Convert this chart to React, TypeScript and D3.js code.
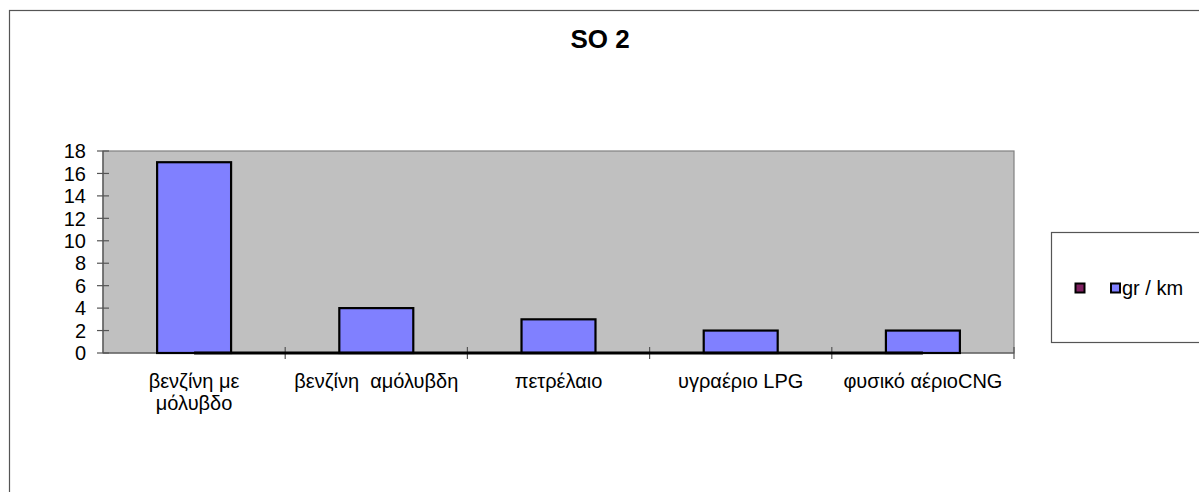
import React from "react";
import * as d3 from "d3";

const categories = [
  "βενζίνη με|μόλυβδο",
  "βενζίνη  αμόλυβδη",
  "πετρέλαιο",
  "υγραέριο LPG",
  "φυσικό αέριοCNG",
];
const grPerKm = [17, 4, 3, 2, 2];
const secondSeries = [0, 0, 0, 0, 0];
const yTicks = [0, 2, 4, 6, 8, 10, 12, 14, 16, 18];
const legendLabels = ["", "gr / km"];
const titleText = "SO 2";

const W = 1199;
const H = 492;
const FONT = "'Liberation Sans', Arial, sans-serif";

export default function App() {
  const plot = { left: 103, right: 1014, top: 151, bottom: 353 };
  const x = d3
    .scaleBand<string>()
    .domain(categories)
    .range([plot.left, plot.right])
    .padding(0);
  const y = d3.scaleLinear().domain([0, 18]).range([plot.bottom, plot.top]);
  const bw = x.bandwidth();
  const barW = bw * 0.406;

  const line = d3
    .line<number>()
    .x((_, i) => (x(categories[i]) as number) + bw / 2)
    .y((d) => y(d));

  return (
    <svg
      width={W}
      height={H}
      style={{ position: "absolute", left: 0, top: 0, background: "#fff" }}
      fontFamily={FONT}
    >
      {/* chart frame */}
      <rect x={9.5} y={10.5} width={1200} height={500} fill="#fff" stroke="#555" strokeWidth={1.2} />

      <text x={600} y={48} textAnchor="middle" fontWeight="bold" fontSize={26} fill="#000">
        {titleText}
      </text>

      {/* plot area */}
      <rect
        x={plot.left}
        y={plot.top}
        width={plot.right - plot.left}
        height={plot.bottom - plot.top}
        fill="#c0c0c0"
        stroke="#808080"
        strokeWidth={1.2}
      />

      {/* y axis */}
      <line x1={plot.left} x2={plot.left} y1={plot.top} y2={plot.bottom} stroke="#555" strokeWidth={1.2} />
      {yTicks.map((t) => (
        <g key={t}>
          <line x1={plot.left - 6} x2={plot.left + 6} y1={y(t)} y2={y(t)} stroke="#555" strokeWidth={1.2} />
          <text x={86} y={y(t)} dy="0.36em" textAnchor="end" fontSize={20} fill="#000">
            {t}
          </text>
        </g>
      ))}

      {/* x axis */}
      <line x1={plot.left} x2={plot.right} y1={plot.bottom} y2={plot.bottom} stroke="#555" strokeWidth={1.2} />
      {categories.map((c, i) => (
        <line
          key={"t" + i}
          x1={(x(c) as number) + bw}
          x2={(x(c) as number) + bw}
          y1={plot.bottom - 6}
          y2={plot.bottom + 6}
          stroke="#555"
          strokeWidth={1.2}
        />
      ))}

      {/* bars */}
      {categories.map((c, i) => {
        const cx = (x(c) as number) + bw / 2;
        return (
          <rect
            key={"b" + i}
            x={cx - barW / 2}
            y={y(grPerKm[i])}
            width={barW}
            height={y(0) - y(grPerKm[i])}
            fill="#8080ff"
            stroke="#000"
            strokeWidth={2.2}
          />
        );
      })}

      {/* second series */}
      <path d={line(secondSeries) || ""} fill="none" stroke="#000" strokeWidth={3.2} />

      {/* category labels */}
      {categories.map((c, i) => {
        const cx = (x(c) as number) + bw / 2;
        const lines = c.split("|");
        return (
          <text
            key={"l" + i}
            x={cx}
            y={388}
            textAnchor="middle"
            fontSize={20}
            fill="#000"
            style={{ whiteSpace: "pre" }}
          >
            {lines.map((ln, j) => (
              <tspan key={j} x={cx} dy={j === 0 ? 0 : 22}>
                {ln}
              </tspan>
            ))}
          </text>
        );
      })}

      {/* legend */}
      <rect x={1051.5} y={232.5} width={200} height={110} fill="#fff" stroke="#555" strokeWidth={1.2} />
      <rect x={1075.5} y={283.5} width={9} height={9} fill="#7f2060" stroke="#000" strokeWidth={2} />
      <rect x={1111} y={283.5} width={9} height={9} fill="#8080ff" stroke="#000" strokeWidth={2} />
      <text x={1122} y={288} dy="0.36em" fontSize={20} fill="#000">
        {legendLabels[1]}
      </text>
    </svg>
  );
}
